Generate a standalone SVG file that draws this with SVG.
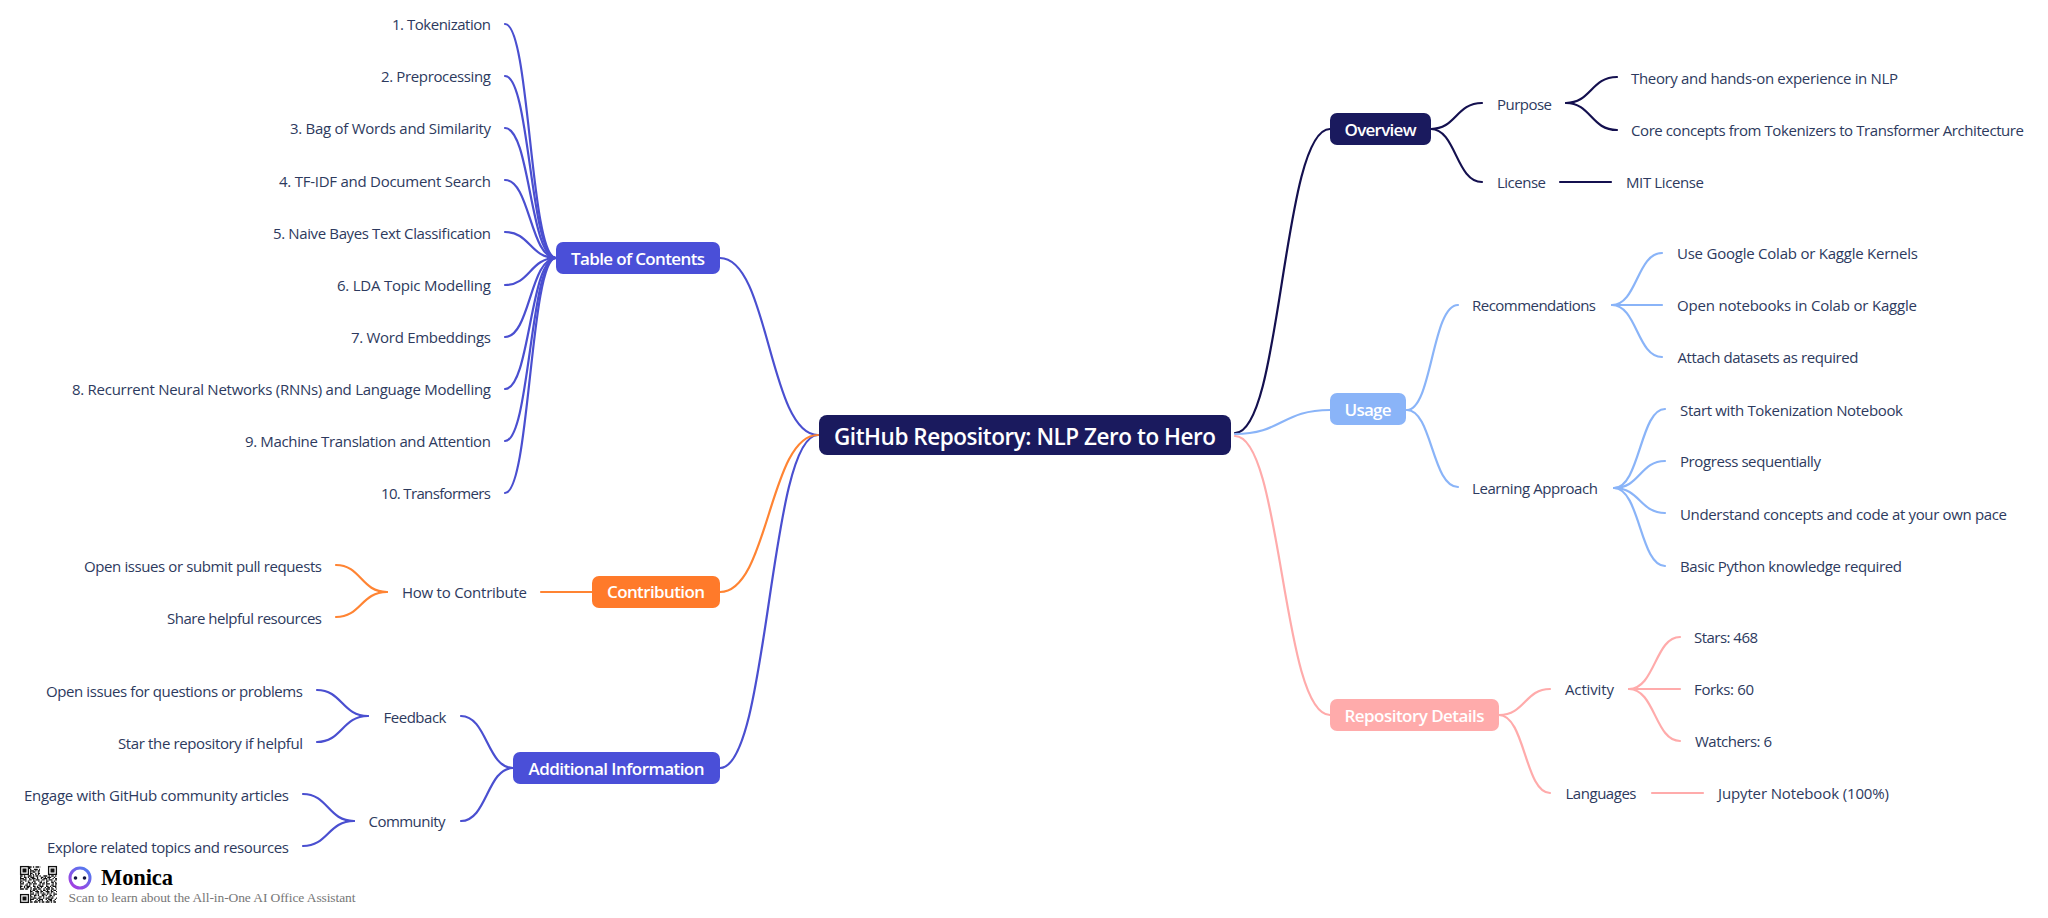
<svg xmlns="http://www.w3.org/2000/svg" width="2048" height="918" viewBox="0 0 2048 918">
<style>
text{font-family:"Open Sans","Noto Sans","Liberation Sans",sans-serif}
.t{font-size:15px;fill:#2d3a5e}
.e{text-anchor:end}
.b{font-size:17px;font-weight:600;fill:#fff;text-anchor:middle}
.c{fill:none;stroke-width:2.2;stroke-linecap:round}
.navy{stroke:#14104f}.blue{stroke:#4a4fd0}.org{stroke:#ff8433}.sky{stroke:#8ab4f8}.pink{stroke:#ffabab}
.q{stroke:#111;stroke-width:1.3;fill:none}
</style>
<defs><linearGradient id="mg" x1="0.9" y1="0" x2="0.1" y2="1"><stop offset="0" stop-color="#4f7df0"/><stop offset="1" stop-color="#a83be0"/></linearGradient></defs>
<rect width="2048" height="918" fill="#fff"/>
<g id="connectors">
<g class="c navy">
<path d="M1235,433C1282,433 1282,129 1330,129"/>
<path d="M1431,129C1456,129 1456,103 1482,103"/>
<path d="M1431,129C1456,129 1456,182 1482,182"/>
<path d="M1566,103C1591,103 1591,77 1617,77"/>
<path d="M1566,103C1591,103 1591,130 1617,130"/>
<path d="M1560,182H1611"/>
</g>
<g class="c sky">
<path d="M1235,434C1282,434 1282,410 1330,410"/>
<path d="M1407,410C1432,410 1432,305 1458,305"/>
<path d="M1407,410C1432,410 1432,487 1458,487"/>
<path d="M1612,305C1637,305 1637,253 1662,253"/>
<path d="M1612,305H1662"/>
<path d="M1612,305C1637,305 1637,357 1662,357"/>
<path d="M1614,488C1640,488 1640,409 1665,409"/>
<path d="M1614,488C1640,488 1640,461 1665,461"/>
<path d="M1614,488C1640,488 1640,513 1665,513"/>
<path d="M1614,488C1640,488 1640,566 1665,566"/>
</g>
<g class="c pink">
<path d="M1235,436C1282,436 1282,715 1330,715"/>
<path d="M1499,715C1525,715 1525,689 1550,689"/>
<path d="M1499,715C1525,715 1525,793 1550,793"/>
<path d="M1629,689C1655,689 1655,637 1680,637"/>
<path d="M1629,689H1680"/>
<path d="M1629,689C1655,689 1655,741 1680,741"/>
<path d="M1652,793H1703"/>
</g>
<g class="c blue">
<path d="M818,435C769,435 769,258 720,258"/>
<path d="M556,258C530,258 530,24 505,24"/>
<path d="M556,258C530,258 530,76 505,76"/>
<path d="M556,258C530,258 530,128 505,128"/>
<path d="M556,258C530,258 530,180 505,180"/>
<path d="M556,258C530,258 530,232 505,232"/>
<path d="M556,258C530,258 530,285 505,285"/>
<path d="M556,258C530,258 530,337 505,337"/>
<path d="M556,258C530,258 530,389 505,389"/>
<path d="M556,258C530,258 530,441 505,441"/>
<path d="M556,258C530,258 530,493 505,493"/>
<path d="M818,435C769,435 769,768 720,768"/>
<path d="M513,768C487,768 487,716 461,716"/>
<path d="M513,768C487,768 487,821 461,821"/>
<path d="M368,716C342,716 342,690 317,690"/>
<path d="M368,716C342,716 342,742 317,742"/>
<path d="M354,821C328,821 328,794 303,794"/>
<path d="M354,821C328,821 328,846 303,846"/>
</g>
<g class="c org">
<path d="M818,435C769,435 769,592 720,592"/>
<path d="M592,592H541"/>
<path d="M387,592C361,592 361,565 336,565"/>
<path d="M387,592C361,592 361,617 336,617"/>
</g>
</g>
<g id="root"><rect x="819" y="415" width="412" height="40" rx="8" fill="#1a1a5e"/><text x="1025" y="445" text-anchor="middle" font-size="22.5" font-weight="600" fill="#fff" textLength="382">GitHub Repository: NLP Zero to Hero</text></g>
<g id="overview"><rect x="1330" y="113" width="101" height="32" rx="7" fill="#1a1a5e"/><text class="b" x="1380.5" y="136" textLength="72">Overview</text></g>
<g id="usage"><rect x="1330" y="393" width="76" height="32" rx="7" fill="#8ab4f8"/><text class="b" x="1368" y="416" textLength="47">Usage</text></g>
<g id="repo"><rect x="1330" y="699" width="169" height="32" rx="7" fill="#ffabab"/><text class="b" x="1414.5" y="722" textLength="140">Repository Details</text></g>
<g id="toc"><rect x="556" y="242" width="164" height="32" rx="7" fill="#4a4fd8"/><text class="b" x="638" y="265" textLength="134">Table of Contents</text></g>
<g id="contribution"><rect x="592" y="576" width="128" height="32" rx="7" fill="#ff7a2a"/><text class="b" x="656" y="598" textLength="98">Contribution</text></g>
<g id="additional"><rect x="513" y="752" width="207" height="32" rx="7" fill="#4a4fd8"/><text class="b" x="616.5" y="775" textLength="176">Additional Information</text></g>
<g id="labels-right">
<text class="t" x="1497" y="110" textLength="55">Purpose</text>
<text class="t" x="1631" y="84" textLength="267">Theory and hands-on experience in NLP</text>
<text class="t" x="1631" y="136" textLength="393">Core concepts from Tokenizers to Transformer Architecture</text>
<text class="t" x="1497" y="188" textLength="49">License</text>
<text class="t" x="1626" y="188" textLength="78">MIT License</text>
<text class="t" x="1472" y="311" textLength="124">Recommendations</text>
<text class="t" x="1677" y="259" textLength="241">Use Google Colab or Kaggle Kernels</text>
<text class="t" x="1677" y="311" textLength="240">Open notebooks in Colab or Kaggle</text>
<text class="t" x="1677.500" y="363" textLength="181">Attach datasets as required</text>
<text class="t" x="1472" y="494" textLength="126">Learning Approach</text>
<text class="t" x="1680" y="416" textLength="223">Start with Tokenization Notebook</text>
<text class="t" x="1680" y="467" textLength="141">Progress sequentially</text>
<text class="t" x="1680" y="520" textLength="327">Understand concepts and code at your own pace</text>
<text class="t" x="1680" y="572" textLength="222">Basic Python knowledge required</text>
<text class="t" x="1565" y="695" textLength="49">Activity</text>
<text class="t" x="1565.500" y="799" textLength="71">Languages</text>
<text class="t" x="1694" y="643" textLength="64">Stars: 468</text>
<text class="t" x="1694" y="695" textLength="60">Forks: 60</text>
<text class="t" x="1695" y="747" textLength="77">Watchers: 6</text>
<text class="t" x="1718" y="799" textLength="171">Jupyter Notebook (100%)</text>
</g>
<g id="labels-left">
<text class="t e" x="491" y="30" textLength="99">1. Tokenization</text>
<text class="t e" x="491" y="82" textLength="110">2. Preprocessing</text>
<text class="t e" x="491" y="134" textLength="201">3. Bag of Words and Similarity</text>
<text class="t e" x="491" y="187" textLength="212">4. TF-IDF and Document Search</text>
<text class="t e" x="491" y="239" textLength="218">5. Naive Bayes Text Classification</text>
<text class="t e" x="491" y="291" textLength="154">6. LDA Topic Modelling</text>
<text class="t e" x="491" y="343" textLength="140">7. Word Embeddings</text>
<text class="t e" x="491" y="395" textLength="419">8. Recurrent Neural Networks (RNNs) and Language Modelling</text>
<text class="t e" x="491" y="447" textLength="246">9. Machine Translation and Attention</text>
<text class="t e" x="491" y="499" textLength="110">10. Transformers</text>
<text class="t e" x="322" y="572" textLength="238">Open issues or submit pull requests</text>
<text class="t e" x="322" y="624" textLength="155">Share helpful resources</text>
<text class="t" x="402" y="598" textLength="125">How to Contribute</text>
<text class="t e" x="303" y="697" textLength="257">Open issues for questions or problems</text>
<text class="t e" x="303" y="749" textLength="185">Star the repository if helpful</text>
<text class="t" x="383.500" y="723" textLength="63">Feedback</text>
<text class="t e" x="289" y="801" textLength="265">Engage with GitHub community articles</text>
<text class="t e" x="289" y="853" textLength="242">Explore related topics and resources</text>
<text class="t" x="368.500" y="827" textLength="77">Community</text>
</g>
<g id="watermark">
<g class="q">
<path d="M29,867h12M29,868.300h1.300" stroke-dasharray="2.600 1.300 1.300 1.300 3.900 1.300"/>
<path d="M30,869.500h10" stroke-dasharray="1.300 2.600 3.900 1.300"/>
<path d="M30,870.800h10" stroke-dasharray="3.900 1.300 1.300 1.300"/>
<path d="M30,872h10" stroke-dasharray="1.300 1.300 2.600 2.600"/>
<path d="M30,873.300h10" stroke-dasharray="2.600 2.600 1.300 1.300"/>
<path d="M30,874.600h10" stroke-dasharray="1.300 1.300"/>
<path d="M20,876h37" stroke-dasharray="2.600 1.300 1.300 2.600 3.900 1.300 1.300 1.300"/>
<path d="M20,877.300h37" stroke-dasharray="1.300 2.600 2.600 1.300 1.300 1.300 3.900 2.600"/>
<path d="M20,878.600h37" stroke-dasharray="3.900 1.300 1.300 2.600 1.300 1.300"/>
<path d="M20,879.900h37" stroke-dasharray="1.300 1.300 3.900 2.600 2.600 1.300"/>
<path d="M20,881.200h37" stroke-dasharray="2.600 2.600 1.300 1.300 1.300 3.900"/>
<path d="M20,882.500h37" stroke-dasharray="1.300 1.300 1.300 3.900 2.600 1.300"/>
<path d="M20,883.800h37" stroke-dasharray="3.900 2.600 1.300 1.300 2.600 1.300"/>
<path d="M20,885.100h37" stroke-dasharray="1.300 3.900 2.600 1.300 1.300 2.600"/>
<path d="M20,886.400h37" stroke-dasharray="2.600 1.300 1.300 1.300 3.900 2.600"/>
<path d="M20,887.700h37" stroke-dasharray="1.300 2.600 1.300 1.300 2.600 1.300"/>
<path d="M20,889h37" stroke-dasharray="3.900 1.300 2.600 2.600 1.300 1.300"/>
<path d="M30,890.300h27" stroke-dasharray="1.300 1.300 2.600 1.300 1.300 2.600"/>
<path d="M30,891.600h27" stroke-dasharray="2.600 2.600 3.900 1.300"/>
<path d="M30,892.900h27" stroke-dasharray="1.300 1.300 1.300 2.600 2.600 1.300"/>
<path d="M30,894.200h27" stroke-dasharray="3.900 1.300 1.300 1.300 1.300 2.600"/>
<path d="M30,895.500h27" stroke-dasharray="1.300 2.600 2.600 1.300"/>
<path d="M30,896.800h27" stroke-dasharray="2.600 1.300 1.300 3.900"/>
<path d="M30,898.100h27" stroke-dasharray="1.300 1.300 3.900 1.300 2.600 2.600"/>
<path d="M30,899.400h27" stroke-dasharray="3.900 2.600 1.300 1.300"/>
<path d="M30,900.700h27" stroke-dasharray="1.300 3.900 1.300 1.300 2.600 1.300"/>
<path d="M30,902h27" stroke-dasharray="2.600 1.300 3.900 1.300 1.300 1.300"/>
<rect x="20.600" y="866.600" width="7.800" height="7.800"/><rect x="48.600" y="866.600" width="7.800" height="7.800"/><rect x="20.600" y="894.600" width="7.800" height="7.800"/>
</g>
<rect x="22.500" y="868.500" width="4" height="4" fill="#111"/><rect x="50.500" y="868.500" width="4" height="4" fill="#111"/><rect x="22.500" y="896.500" width="4" height="4" fill="#111"/>
<circle cx="80" cy="878" r="10" fill="#fff" stroke="url(#mg)" stroke-width="3"/>
<circle cx="75.500" cy="878" r="1.800" fill="#14143c"/><circle cx="84.500" cy="878" r="1.800" fill="#14143c"/>
<text x="101" y="885" font-size="22.500" font-weight="700" fill="#000" style="font-family:'Liberation Serif',serif" textLength="72">Monica</text>
<text x="68.500" y="902" font-size="13.500" fill="#777" style="font-family:'Liberation Serif',serif" textLength="287">Scan to learn about the All-in-One AI Office Assistant</text>
</g>
</svg>
